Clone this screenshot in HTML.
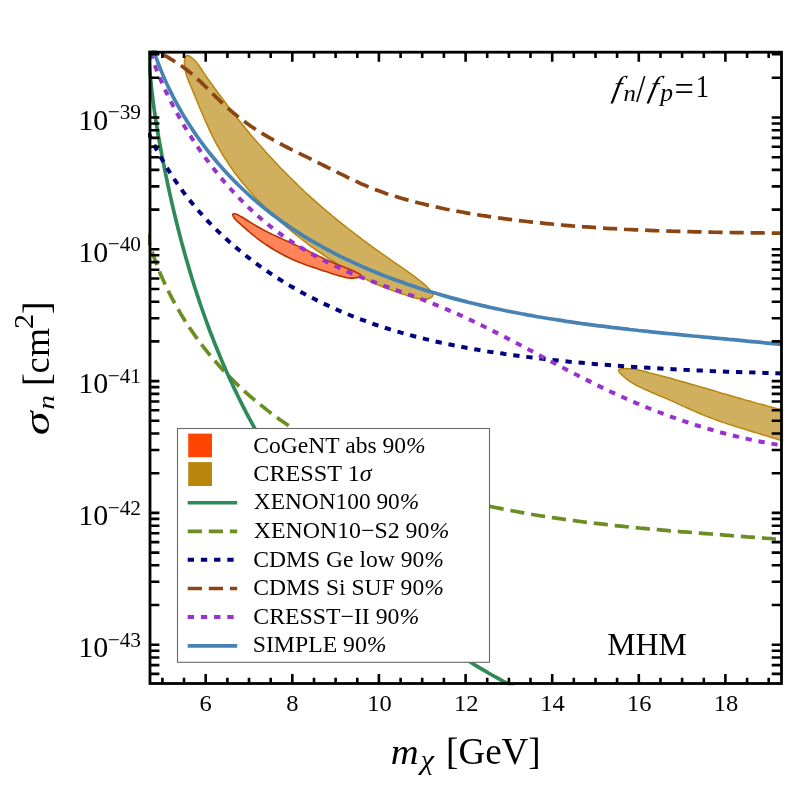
<!DOCTYPE html>
<html><head><meta charset="utf-8"><title>plot</title>
<style>html,body{margin:0;padding:0;background:#fff}svg{display:block}text{font-family:"Liberation Serif",serif;fill:#000}svg{will-change:transform;transform:translateZ(0)}</style>
</head><body>
<svg width="789" height="789" viewBox="0 0 789 789">
<rect width="789" height="789" fill="#fff"/>
<defs><clipPath id="c"><rect x="148.0" y="50.6" width="635.1" height="634.7"/></clipPath></defs>
<g clip-path="url(#c)" fill="none" stroke-linecap="butt" stroke-linejoin="round">
<path d="M186.5 55.8C187.5 55.3 189.1 55.9 190.6 56.8C192.1 57.7 194.0 59.5 195.4 61.0C196.9 62.6 198.2 64.5 199.4 66.2C200.7 68.0 201.8 69.8 202.9 71.5C204.1 73.3 205.3 75.0 206.4 76.7C207.6 78.3 208.7 80.0 209.9 81.6C211.1 83.2 212.2 84.9 213.4 86.5C214.5 88.1 215.7 89.7 216.9 91.3C218.0 92.9 219.2 94.4 220.4 96.0C221.6 97.6 222.8 99.2 224.0 100.8C225.2 102.4 226.4 104.0 227.6 105.6C228.8 107.2 230.0 108.8 231.2 110.4C232.4 112.0 233.7 113.5 234.9 115.1C236.2 116.7 237.4 118.3 238.6 119.8C239.9 121.4 241.2 123.0 242.4 124.6C243.7 126.1 245.0 127.7 246.2 129.2C247.5 130.8 248.8 132.3 250.1 133.9C251.4 135.4 252.7 137.0 254.0 138.5C255.3 140.0 256.6 141.6 257.9 143.1C259.3 144.6 260.6 146.1 261.9 147.6C263.3 149.2 264.6 150.7 265.9 152.2C267.3 153.7 268.7 155.1 270.0 156.6C271.4 158.1 272.8 159.6 274.1 161.1C275.5 162.5 276.9 164.0 278.3 165.5C279.7 166.9 281.1 168.4 282.5 169.8C283.9 171.3 285.3 172.7 286.7 174.1C288.1 175.6 289.5 177.0 291.0 178.4C292.4 179.8 293.8 181.2 295.3 182.6C296.7 184.0 298.2 185.4 299.6 186.8C301.1 188.2 302.5 189.6 304.0 191.0C305.5 192.3 306.9 193.7 308.4 195.1C309.9 196.4 311.4 197.8 312.9 199.1C314.4 200.4 315.9 201.8 317.4 203.1C318.9 204.4 320.4 205.7 321.9 207.1C323.4 208.4 324.9 209.7 326.5 211.0C328.0 212.3 329.5 213.5 331.1 214.8C332.6 216.1 334.1 217.4 335.7 218.6C337.2 219.9 338.8 221.2 340.4 222.4C341.9 223.7 343.5 224.9 345.1 226.2C346.6 227.4 348.2 228.6 349.8 229.9C351.4 231.1 352.9 232.3 354.5 233.5C356.1 234.7 357.7 235.9 359.3 237.1C360.9 238.4 362.5 239.6 364.1 240.8C365.8 242.0 367.4 243.1 369.0 244.3C370.6 245.5 372.2 246.7 373.9 247.9C375.5 249.1 377.1 250.2 378.8 251.4C380.4 252.6 382.1 253.8 383.7 254.9C385.4 256.1 387.0 257.3 388.7 258.4C390.3 259.6 392.0 260.7 393.6 261.9C395.3 263.1 397.0 264.2 398.7 265.4C400.3 266.5 402.0 267.7 403.7 268.8C405.4 270.0 407.1 271.1 408.7 272.3C410.4 273.5 412.0 274.6 413.7 275.9C415.3 277.1 417.0 278.3 418.5 279.5C420.1 280.8 421.7 282.1 423.2 283.4C424.8 284.7 426.3 286.1 427.7 287.5C429.1 288.9 430.9 290.5 431.7 291.8C432.6 293.2 433.2 294.7 432.8 295.8C432.4 296.9 430.7 297.9 429.2 298.5C427.6 299.1 425.6 299.3 423.7 299.3C421.8 299.3 419.8 299.0 417.8 298.6C415.9 298.2 413.8 297.6 411.8 297.0C409.8 296.4 407.9 295.8 405.9 295.1C403.9 294.5 401.9 293.9 400.0 293.2C398.0 292.5 396.1 291.9 394.2 291.2C392.2 290.5 390.3 289.7 388.4 289.0C386.5 288.3 384.6 287.5 382.7 286.7C380.8 286.0 379.0 285.2 377.1 284.4C375.3 283.6 373.4 282.8 371.6 281.9C369.7 281.1 367.9 280.2 366.1 279.4C364.2 278.5 362.4 277.6 360.6 276.7C358.8 275.8 357.1 274.9 355.3 274.0C353.5 273.0 351.7 272.1 350.0 271.1C348.2 270.2 346.5 269.2 344.7 268.2C343.0 267.2 341.3 266.2 339.5 265.2C337.8 264.2 336.1 263.1 334.4 262.1C332.7 261.0 331.0 260.0 329.3 258.9C327.7 257.8 326.0 256.7 324.3 255.6C322.7 254.5 321.0 253.4 319.4 252.2C317.7 251.1 316.1 250.0 314.5 248.8C312.8 247.6 311.2 246.5 309.6 245.3C308.0 244.1 306.4 242.9 304.8 241.7C303.2 240.5 301.6 239.3 300.1 238.0C298.5 236.8 296.9 235.5 295.4 234.3C293.8 233.0 292.2 231.8 290.7 230.5C289.2 229.2 287.6 227.9 286.1 226.6C284.6 225.3 283.1 224.0 281.5 222.6C280.0 221.3 278.5 220.0 277.0 218.6C275.5 217.3 274.1 215.9 272.6 214.5C271.1 213.2 269.6 211.8 268.2 210.4C266.7 209.0 265.3 207.6 263.9 206.2C262.4 204.7 261.0 203.3 259.6 201.9C258.2 200.4 256.8 199.0 255.4 197.5C254.1 196.0 252.7 194.5 251.4 193.0C250.0 191.5 248.7 190.0 247.4 188.5C246.0 187.0 244.7 185.5 243.5 183.9C242.2 182.4 240.9 180.8 239.7 179.2C238.4 177.7 237.2 176.1 236.0 174.5C234.8 172.9 233.6 171.3 232.4 169.6C231.3 168.0 230.1 166.4 229.0 164.7C227.9 163.0 226.8 161.4 225.7 159.7C224.6 158.0 223.5 156.3 222.5 154.6C221.5 152.9 220.5 151.1 219.5 149.4C218.5 147.6 217.5 145.9 216.6 144.1C215.6 142.3 214.7 140.6 213.8 138.8C212.9 137.0 212.0 135.2 211.1 133.4C210.2 131.6 209.4 129.7 208.5 127.9C207.7 126.1 206.9 124.2 206.0 122.4C205.2 120.5 204.4 118.7 203.6 116.8C202.8 115.0 202.0 113.1 201.2 111.3C200.4 109.4 199.6 107.5 198.8 105.7C198.1 103.8 197.3 101.9 196.5 100.0C195.7 98.2 195.0 96.3 194.2 94.4C193.4 92.6 192.6 90.7 191.9 88.8C191.1 87.0 190.3 85.1 189.5 83.2C188.8 81.4 188.0 79.5 187.3 77.6C186.7 75.7 186.1 73.8 185.6 71.8C185.1 69.8 184.8 67.8 184.6 65.8C184.4 63.8 184.3 61.3 184.6 59.7C184.9 58.0 185.5 56.2 186.5 55.8Z" fill="rgb(184,134,11)" fill-opacity="0.66" stroke="#B8860B" stroke-width="1.5"/>
<path d="M795.0 412.8C794.0 412.6 791.1 412.0 789.2 411.5C787.2 411.0 785.3 410.6 783.3 410.1C781.4 409.6 779.5 409.2 777.5 408.7C775.6 408.2 773.6 407.7 771.7 407.2C769.8 406.7 767.8 406.2 765.9 405.6C763.9 405.1 762.0 404.6 760.0 404.1C758.1 403.5 756.2 403.0 754.2 402.4C752.3 401.9 750.3 401.4 748.4 400.8C746.5 400.3 744.5 399.7 742.6 399.1C740.6 398.6 738.7 398.0 736.7 397.5C734.8 396.9 732.9 396.3 730.9 395.8C729.0 395.2 727.1 394.6 725.1 394.1C723.2 393.5 721.3 392.9 719.3 392.4C717.4 391.8 715.5 391.2 713.6 390.6C711.6 390.1 709.7 389.5 707.8 389.0C705.9 388.4 703.9 387.8 702.0 387.3C700.1 386.7 698.2 386.2 696.3 385.6C694.4 385.0 692.5 384.5 690.6 384.0C688.6 383.4 686.7 382.9 684.8 382.3C682.9 381.8 681.0 381.3 679.1 380.7C677.2 380.2 675.3 379.7 673.4 379.1C671.4 378.6 669.5 378.1 667.6 377.6C665.6 377.0 663.7 376.5 661.7 376.0C659.8 375.5 657.8 375.0 655.8 374.4C653.8 373.9 651.8 373.4 649.8 372.9C647.8 372.3 645.8 371.8 643.7 371.3C641.7 370.8 639.6 370.3 637.6 369.9C635.5 369.5 633.4 369.1 631.4 368.9C629.4 368.6 627.3 368.4 625.3 368.4C623.4 368.4 620.7 368.4 619.7 368.9C618.6 369.4 618.5 370.5 619.0 371.7C619.5 372.8 621.3 374.5 622.7 375.7C624.0 377.0 625.5 378.2 627.0 379.4C628.5 380.5 630.1 381.6 631.8 382.6C633.4 383.7 635.2 384.6 637.0 385.6C638.7 386.5 640.6 387.4 642.4 388.3C644.3 389.2 646.2 390.0 648.1 390.8C650.0 391.6 651.9 392.5 653.9 393.3C655.8 394.1 657.7 394.9 659.6 395.7C661.5 396.5 663.4 397.3 665.3 398.1C667.2 398.9 669.0 399.8 670.9 400.6C672.7 401.4 674.6 402.2 676.4 403.1C678.2 403.9 680.0 404.7 681.8 405.6C683.7 406.4 685.5 407.2 687.3 408.0C689.1 408.8 690.9 409.6 692.7 410.4C694.5 411.2 696.3 412.0 698.1 412.8C699.9 413.6 701.8 414.4 703.6 415.1C705.4 415.9 707.3 416.6 709.1 417.3C711.0 418.0 712.8 418.7 714.7 419.4C716.6 420.1 718.5 420.8 720.4 421.5C722.2 422.1 724.1 422.8 726.1 423.4C728.0 424.0 729.9 424.7 731.8 425.3C733.7 425.9 735.6 426.5 737.6 427.1C739.5 427.7 741.4 428.3 743.4 428.9C745.3 429.5 747.2 430.1 749.2 430.7C751.1 431.3 753.0 431.9 755.0 432.4C756.9 433.0 758.8 433.6 760.8 434.2C762.7 434.8 764.6 435.4 766.6 435.9C768.5 436.5 770.4 437.1 772.3 437.7C774.2 438.3 776.2 438.9 778.1 439.5C780.0 440.1 781.9 440.7 783.8 441.4C785.6 442.0 787.5 442.6 789.4 443.3C791.3 443.9 794.0 444.9 795.0 445.2Z" fill="rgb(184,134,11)" fill-opacity="0.66" stroke="#B8860B" stroke-width="1.5"/>
<path d="M232.8 214.1C233.1 213.4 234.6 213.7 236.0 214.1C237.5 214.6 239.7 215.9 241.4 216.8C243.0 217.7 244.5 218.7 245.9 219.5C247.4 220.4 248.6 221.3 250.0 222.1C251.4 223.0 252.8 223.8 254.2 224.7C255.7 225.5 257.1 226.4 258.6 227.2C260.1 228.1 261.6 228.9 263.1 229.7C264.7 230.5 266.2 231.3 267.7 232.1C269.2 232.9 270.8 233.6 272.3 234.4C273.8 235.1 275.3 235.8 276.9 236.5C278.4 237.2 279.9 237.9 281.5 238.6C283.0 239.3 284.5 240.0 286.1 240.7C287.6 241.4 289.1 242.1 290.7 242.8C292.2 243.5 293.7 244.2 295.3 244.9C296.8 245.6 298.3 246.3 299.9 247.0C301.4 247.7 302.9 248.4 304.5 249.2C306.0 249.9 307.5 250.7 309.1 251.4C310.6 252.2 312.1 252.9 313.7 253.7C315.2 254.4 316.7 255.2 318.3 255.9C319.8 256.7 321.3 257.4 322.9 258.1C324.4 258.9 325.9 259.6 327.5 260.3C329.0 261.0 330.5 261.7 332.0 262.3C333.6 263.0 335.1 263.6 336.6 264.2C338.2 264.8 339.7 265.4 341.2 266.0C342.8 266.6 344.4 267.2 346.0 267.9C347.6 268.5 349.2 269.2 350.9 269.9C352.6 270.6 354.6 271.4 356.2 272.3C357.8 273.1 360.3 274.1 360.8 274.9C361.2 275.7 360.0 276.5 359.0 277.0C358.0 277.5 356.3 277.9 354.8 278.0C353.3 278.2 351.8 278.2 350.2 278.1C348.6 278.0 347.0 277.7 345.3 277.4C343.7 277.0 342.0 276.6 340.3 276.1C338.6 275.7 336.8 275.1 335.1 274.6C333.4 274.0 331.7 273.4 330.0 272.9C328.3 272.3 326.7 271.8 325.0 271.3C323.4 270.7 321.8 270.2 320.2 269.7C318.6 269.1 317.0 268.6 315.4 268.1C313.8 267.6 312.2 267.0 310.7 266.5C309.1 266.0 307.6 265.4 306.0 264.9C304.5 264.3 302.9 263.7 301.4 263.1C299.8 262.5 298.3 261.9 296.8 261.2C295.2 260.6 293.7 259.9 292.1 259.2C290.6 258.5 289.1 257.8 287.5 257.0C286.0 256.3 284.5 255.5 283.0 254.7C281.4 253.9 279.9 253.1 278.4 252.3C276.9 251.4 275.4 250.6 274.0 249.7C272.5 248.8 271.0 247.9 269.6 247.0C268.1 246.1 266.7 245.1 265.3 244.2C263.9 243.2 262.5 242.3 261.2 241.3C259.8 240.3 258.5 239.3 257.2 238.3C255.9 237.3 254.6 236.2 253.3 235.2C252.0 234.1 250.7 233.1 249.4 232.0C248.1 230.9 246.9 229.8 245.6 228.7C244.3 227.6 243.0 226.4 241.6 225.2C240.3 224.1 238.9 222.9 237.6 221.7C236.4 220.5 235.0 219.2 234.2 217.9C233.4 216.6 232.5 214.7 232.8 214.1Z" fill="rgb(255,132,87)" stroke="#B83300" stroke-width="1.6"/>
<path d="M146.0 231.5C146.4 233.0 147.6 237.4 148.5 240.4C149.3 243.3 150.2 246.2 151.2 249.1C152.1 252.0 153.1 254.9 154.2 257.8C155.2 260.6 156.3 263.5 157.4 266.3C158.5 269.1 159.6 271.9 160.8 274.7C162.0 277.5 163.2 280.3 164.5 283.0C165.8 285.8 167.1 288.5 168.4 291.2C169.8 294.0 171.2 296.7 172.6 299.3C174.0 302.0 175.5 304.6 177.0 307.3C178.5 309.9 180.0 312.5 181.5 315.1C183.1 317.7 184.7 320.2 186.3 322.8C188.0 325.3 189.6 327.8 191.3 330.3C193.0 332.8 194.8 335.3 196.5 337.7C198.3 340.2 200.1 342.6 201.9 345.0C203.7 347.4 205.6 349.7 207.5 352.1C209.4 354.4 211.3 356.7 213.2 359.0C215.2 361.3 217.2 363.6 219.2 365.8C221.2 368.0 223.2 370.3 225.3 372.4C227.3 374.6 229.4 376.8 231.6 378.9C233.7 381.0 235.8 383.1 238.0 385.2C240.2 387.2 242.4 389.3 244.6 391.3C246.8 393.3 249.0 395.3 251.3 397.2C253.6 399.2 255.9 401.1 258.2 403.0C260.5 404.9 262.8 406.8 265.2 408.6C267.6 410.5 269.9 412.3 272.3 414.1C274.8 415.9 277.2 417.6 279.6 419.4C282.1 421.1 284.5 422.8 287.0 424.5C289.5 426.2 292.0 427.9 294.5 429.5C297.0 431.1 299.6 432.7 302.1 434.3C304.7 435.9 307.3 437.5 309.8 439.0C312.4 440.5 315.0 442.0 317.7 443.5C320.3 445.0 322.9 446.5 325.6 447.9C328.2 449.3 330.9 450.8 333.5 452.1C336.2 453.5 338.9 454.9 341.6 456.2C344.3 457.6 347.0 458.9 349.7 460.2C352.5 461.4 355.2 462.7 358.0 464.0C360.7 465.2 363.5 466.4 366.2 467.6C369.0 468.8 371.8 470.0 374.6 471.1C377.3 472.3 380.1 473.4 382.9 474.5C385.7 475.6 388.5 476.7 391.3 477.8C394.2 478.8 397.0 479.9 399.8 480.9C402.6 481.9 405.5 482.9 408.3 483.9C411.2 484.8 414.0 485.8 416.9 486.7C419.7 487.7 422.6 488.6 425.5 489.5C428.3 490.4 431.2 491.2 434.1 492.1C437.0 492.9 439.8 493.8 442.7 494.6C445.6 495.4 448.5 496.2 451.4 497.0C454.3 497.8 457.2 498.5 460.2 499.3C463.1 500.0 466.0 500.8 468.9 501.5C471.8 502.2 474.8 502.9 477.7 503.6C480.6 504.3 483.6 504.9 486.5 505.6C489.5 506.2 492.4 506.8 495.4 507.5C498.3 508.1 501.3 508.7 504.2 509.3C507.2 509.9 510.2 510.4 513.1 511.0C516.1 511.6 519.1 512.1 522.0 512.6C525.0 513.2 528.0 513.7 531.0 514.2C533.9 514.7 536.9 515.2 539.9 515.7C542.9 516.2 545.9 516.6 548.9 517.1C551.9 517.6 554.9 518.0 557.9 518.4C560.8 518.9 563.8 519.3 566.8 519.7C569.8 520.1 572.8 520.5 575.9 520.9C578.9 521.3 581.9 521.7 584.9 522.1C587.9 522.5 590.9 522.8 593.9 523.2C596.9 523.5 599.9 523.9 602.9 524.2C605.9 524.6 608.9 524.9 612.0 525.2C615.0 525.6 618.0 525.9 621.0 526.2C624.0 526.5 627.0 526.8 630.0 527.1C633.0 527.4 636.1 527.7 639.1 528.0C642.1 528.3 645.1 528.5 648.1 528.8C651.1 529.1 654.1 529.4 657.1 529.6C660.2 529.9 663.2 530.2 666.2 530.4C669.2 530.7 672.2 530.9 675.2 531.2C678.2 531.4 681.2 531.7 684.2 531.9C687.2 532.2 690.2 532.4 693.2 532.6C696.2 532.9 699.2 533.1 702.2 533.3C705.2 533.6 708.2 533.8 711.2 534.0C714.2 534.3 717.2 534.5 720.2 534.7C723.2 534.9 726.1 535.2 729.1 535.4C732.1 535.6 735.1 535.9 738.1 536.1C741.0 536.3 744.0 536.5 747.0 536.8C750.0 537.0 752.9 537.2 755.9 537.5C758.8 537.7 761.8 537.9 764.8 538.2C767.7 538.4 770.7 538.6 773.6 538.9C776.5 539.1 781.0 539.5 782.4 539.6" stroke="#6B8E23" stroke-width="3.7" stroke-dasharray="14.2 6.9"/>
<path d="M148.0 40.2C148.1 41.7 148.2 46.2 148.4 49.2C148.5 52.1 148.7 55.1 148.9 58.1C149.1 61.1 149.3 64.1 149.5 67.1C149.8 70.0 150.0 73.0 150.3 76.0C150.6 79.0 150.9 82.0 151.2 84.9C151.5 87.9 151.8 90.9 152.2 93.9C152.5 96.8 152.9 99.8 153.3 102.8C153.7 105.8 154.1 108.7 154.5 111.7C155.0 114.7 155.4 117.6 155.9 120.6C156.3 123.6 156.8 126.5 157.3 129.5C157.8 132.4 158.3 135.4 158.8 138.4C159.3 141.3 159.8 144.3 160.4 147.2C160.9 150.2 161.5 153.1 162.0 156.1C162.6 159.0 163.2 162.0 163.8 164.9C164.3 167.9 164.9 170.8 165.6 173.8C166.2 176.7 166.8 179.7 167.4 182.6C168.0 185.6 168.7 188.5 169.3 191.4C170.0 194.4 170.6 197.3 171.3 200.3C171.9 203.2 172.6 206.1 173.3 209.0C174.0 212.0 174.7 214.9 175.4 217.8C176.1 220.8 176.8 223.7 177.6 226.6C178.3 229.5 179.1 232.4 179.8 235.3C180.6 238.3 181.3 241.2 182.1 244.1C182.9 247.0 183.7 249.9 184.5 252.8C185.3 255.7 186.1 258.6 187.0 261.5C187.8 264.3 188.6 267.2 189.5 270.1C190.4 273.0 191.2 275.9 192.1 278.8C193.0 281.6 193.9 284.5 194.8 287.4C195.7 290.2 196.6 293.1 197.6 295.9C198.5 298.8 199.5 301.7 200.4 304.5C201.4 307.3 202.4 310.2 203.4 313.0C204.4 315.9 205.4 318.7 206.4 321.5C207.4 324.3 208.5 327.2 209.5 330.0C210.6 332.8 211.7 335.6 212.8 338.4C213.8 341.2 215.0 344.0 216.1 346.8C217.2 349.6 218.3 352.3 219.5 355.1C220.6 357.9 221.8 360.7 223.0 363.4C224.2 366.2 225.4 369.0 226.6 371.7C227.8 374.5 229.0 377.2 230.3 379.9C231.6 382.7 232.8 385.4 234.1 388.1C235.4 390.8 236.7 393.5 238.0 396.3C239.3 399.0 240.7 401.7 242.0 404.3C243.4 407.0 244.8 409.7 246.1 412.4C247.5 415.1 248.9 417.7 250.4 420.4C251.8 423.0 253.2 425.7 254.7 428.3C256.1 431.0 257.6 433.6 259.1 436.2C260.6 438.8 262.1 441.4 263.6 444.0C265.1 446.6 266.6 449.2 268.2 451.8C269.8 454.4 271.3 456.9 272.9 459.5C274.5 462.1 276.1 464.6 277.7 467.2C279.3 469.7 281.0 472.2 282.6 474.7C284.3 477.3 285.9 479.8 287.6 482.3C289.3 484.8 291.0 487.2 292.7 489.7C294.4 492.2 296.2 494.6 297.9 497.1C299.7 499.5 301.4 502.0 303.2 504.4C305.0 506.8 306.8 509.2 308.6 511.6C310.4 514.0 312.2 516.4 314.1 518.8C315.9 521.2 317.8 523.6 319.6 525.9C321.5 528.3 323.4 530.6 325.3 532.9C327.2 535.2 329.1 537.5 331.1 539.8C333.0 542.1 334.9 544.4 336.9 546.7C338.9 549.0 340.9 551.2 342.9 553.5C344.9 555.7 346.9 557.9 348.9 560.1C350.9 562.4 353.0 564.5 355.0 566.7C357.1 568.9 359.2 571.1 361.3 573.2C363.3 575.4 365.4 577.5 367.6 579.6C369.7 581.8 371.8 583.9 374.0 586.0C376.1 588.1 378.3 590.1 380.5 592.2C382.6 594.3 384.8 596.3 387.1 598.3C389.3 600.3 391.5 602.4 393.7 604.4C396.0 606.3 398.2 608.3 400.5 610.3C402.8 612.2 405.0 614.2 407.3 616.1C409.6 618.0 411.9 619.9 414.3 621.8C416.6 623.7 418.9 625.6 421.3 627.5C423.7 629.3 426.0 631.1 428.4 633.0C430.8 634.8 433.2 636.6 435.6 638.4C438.0 640.2 440.5 641.9 442.9 643.7C445.3 645.4 447.8 647.1 450.3 648.8C452.8 650.6 455.2 652.2 457.7 653.9C460.2 655.6 462.8 657.2 465.3 658.9C467.8 660.5 470.4 662.1 472.9 663.7C475.5 665.3 478.0 666.8 480.6 668.4C483.2 669.9 485.8 671.5 488.4 673.0C491.0 674.5 493.7 676.0 496.3 677.4C498.9 678.9 501.6 680.4 504.3 681.8C506.9 683.2 509.6 684.6 512.3 686.0C515.0 687.4 519.1 689.4 520.4 690.1" stroke="#2E8B57" stroke-width="3.7"/>
<path d="M143.5 120.9C144.1 122.3 145.8 126.7 147.1 129.6C148.3 132.5 149.6 135.3 151.0 138.1C152.3 140.9 153.6 143.7 155.0 146.5C156.4 149.2 157.9 151.9 159.3 154.6C160.8 157.3 162.3 160.0 163.9 162.6C165.4 165.3 167.0 167.9 168.6 170.5C170.2 173.0 171.9 175.6 173.5 178.1C175.2 180.6 176.9 183.1 178.7 185.6C180.4 188.0 182.2 190.5 184.0 192.9C185.8 195.3 187.7 197.6 189.5 200.0C191.4 202.3 193.3 204.6 195.2 206.9C197.2 209.2 199.1 211.5 201.1 213.7C203.1 215.9 205.1 218.1 207.2 220.3C209.2 222.5 211.3 224.6 213.4 226.7C215.5 228.9 217.6 230.9 219.8 233.0C221.9 235.1 224.1 237.1 226.3 239.1C228.5 241.1 230.8 243.1 233.0 245.0C235.3 247.0 237.6 248.9 239.9 250.8C242.2 252.7 244.5 254.6 246.8 256.4C249.2 258.2 251.6 260.0 254.0 261.8C256.3 263.6 258.8 265.4 261.2 267.1C263.6 268.8 266.1 270.5 268.6 272.2C271.0 273.8 273.5 275.5 276.0 277.1C278.5 278.7 281.1 280.3 283.6 281.9C286.2 283.4 288.7 285.0 291.3 286.5C293.9 288.0 296.5 289.5 299.1 290.9C301.8 292.4 304.4 293.8 307.0 295.2C309.7 296.6 312.3 298.0 315.0 299.3C317.7 300.7 320.4 302.0 323.1 303.3C325.8 304.6 328.5 305.9 331.3 307.1C334.0 308.4 336.7 309.6 339.5 310.8C342.2 311.9 345.0 313.1 347.8 314.2C350.6 315.4 353.3 316.5 356.1 317.6C358.9 318.7 361.7 319.7 364.6 320.7C367.4 321.8 370.2 322.8 373.0 323.8C375.9 324.8 378.7 325.7 381.6 326.6C384.4 327.6 387.3 328.5 390.1 329.4C393.0 330.2 395.9 331.1 398.7 331.9C401.6 332.8 404.5 333.6 407.4 334.4C410.3 335.2 413.2 336.0 416.1 336.7C419.0 337.5 421.9 338.2 424.8 338.9C427.8 339.6 430.7 340.3 433.6 341.0C436.5 341.7 439.5 342.3 442.4 343.0C445.3 343.6 448.3 344.2 451.2 344.8C454.2 345.4 457.1 346.0 460.1 346.6C463.0 347.1 466.0 347.7 469.0 348.2C471.9 348.8 474.9 349.3 477.9 349.8C480.8 350.3 483.8 350.8 486.8 351.3C489.8 351.7 492.7 352.2 495.7 352.7C498.7 353.1 501.7 353.5 504.7 354.0C507.6 354.4 510.6 354.8 513.6 355.2C516.6 355.6 519.6 356.0 522.6 356.4C525.6 356.8 528.6 357.2 531.6 357.5C534.5 357.9 537.5 358.2 540.5 358.6C543.5 358.9 546.5 359.3 549.5 359.6C552.5 359.9 555.5 360.2 558.5 360.5C561.5 360.9 564.4 361.2 567.4 361.5C570.4 361.8 573.4 362.0 576.4 362.3C579.4 362.6 582.4 362.9 585.4 363.1C588.4 363.4 591.4 363.7 594.3 363.9C597.3 364.2 600.3 364.4 603.3 364.7C606.3 364.9 609.3 365.1 612.3 365.4C615.3 365.6 618.3 365.8 621.3 366.0C624.2 366.2 627.2 366.5 630.2 366.7C633.2 366.9 636.2 367.1 639.2 367.2C642.2 367.4 645.2 367.6 648.2 367.8C651.2 368.0 654.2 368.2 657.1 368.3C660.1 368.5 663.1 368.7 666.1 368.8C669.1 369.0 672.1 369.2 675.1 369.3C678.1 369.5 681.1 369.6 684.1 369.8C687.1 369.9 690.0 370.0 693.0 370.2C696.0 370.3 699.0 370.5 702.0 370.6C705.0 370.7 708.0 370.8 711.0 371.0C714.0 371.1 717.0 371.2 720.0 371.3C723.0 371.4 725.9 371.5 728.9 371.7C731.9 371.8 734.9 371.9 737.9 372.0C740.9 372.1 743.9 372.2 746.9 372.3C749.9 372.4 752.9 372.5 755.9 372.6C758.9 372.7 761.9 372.8 764.9 372.9C767.9 373.0 770.9 373.1 773.8 373.2C776.8 373.3 781.3 373.4 782.8 373.4" stroke="#000080" stroke-width="4.0" stroke-dasharray="6.3 6.845"/>
<path d="M148.0 47.3C149.0 47.7 152.3 49.2 154.4 50.2C156.5 51.2 158.6 52.3 160.7 53.4C162.8 54.5 164.9 55.6 166.9 56.7C168.9 57.9 171.0 59.1 172.9 60.3C174.9 61.5 176.9 62.8 178.8 64.1C180.7 65.4 182.6 66.8 184.5 68.1C186.3 69.5 188.2 70.9 189.9 72.4C191.7 73.9 193.5 75.4 195.2 76.9C197.0 78.4 198.7 80.0 200.4 81.6C202.0 83.2 203.7 84.8 205.4 86.5C207.0 88.1 208.7 89.8 210.3 91.4C212.0 93.1 213.7 94.7 215.3 96.4C217.0 98.0 218.7 99.6 220.4 101.3C222.1 102.9 223.8 104.5 225.5 106.1C227.2 107.7 229.0 109.2 230.8 110.7C232.5 112.3 234.4 113.7 236.2 115.2C238.0 116.7 239.8 118.1 241.7 119.5C243.6 120.9 245.5 122.3 247.4 123.7C249.3 125.0 251.2 126.4 253.2 127.7C255.1 129.0 257.1 130.3 259.0 131.5C261.0 132.8 263.0 134.0 265.0 135.2C267.0 136.4 269.0 137.6 271.1 138.7C273.1 139.9 275.2 141.0 277.2 142.1C279.3 143.2 281.3 144.3 283.4 145.4C285.5 146.5 287.6 147.5 289.7 148.6C291.8 149.7 293.9 150.7 296.0 151.7C298.1 152.8 300.2 153.8 302.3 154.8C304.4 155.9 306.5 156.9 308.6 157.9C310.7 159.0 312.8 160.0 314.9 161.0C317.0 162.1 319.1 163.1 321.2 164.2C323.3 165.2 325.4 166.3 327.5 167.3C329.6 168.4 331.7 169.5 333.8 170.5C335.9 171.6 338.0 172.7 340.1 173.7C342.2 174.7 344.3 175.8 346.5 176.8C348.6 177.9 350.7 178.9 352.8 179.9C354.9 180.9 357.1 181.9 359.2 182.8C361.3 183.8 363.5 184.7 365.6 185.6C367.8 186.6 370.0 187.4 372.1 188.3C374.3 189.2 376.5 190.0 378.7 190.8C380.9 191.6 383.1 192.4 385.3 193.2C387.5 193.9 389.7 194.7 392.0 195.4C394.2 196.1 396.4 196.8 398.7 197.4C400.9 198.1 403.2 198.8 405.4 199.4C407.7 200.0 410.0 200.6 412.2 201.2C414.5 201.8 416.8 202.4 419.0 203.0C421.3 203.5 423.6 204.1 425.9 204.6C428.2 205.2 430.4 205.7 432.7 206.2C435.0 206.7 437.3 207.2 439.6 207.7C441.9 208.2 444.2 208.7 446.5 209.2C448.8 209.6 451.1 210.1 453.4 210.5C455.7 211.0 458.0 211.4 460.3 211.8C462.6 212.3 464.9 212.7 467.2 213.1C469.6 213.5 471.9 213.9 474.2 214.3C476.5 214.6 478.8 215.0 481.1 215.4C483.5 215.7 485.8 216.1 488.1 216.4C490.4 216.8 492.7 217.1 495.1 217.5C497.4 217.8 499.7 218.1 502.0 218.4C504.4 218.7 506.7 219.0 509.0 219.3C511.4 219.6 513.7 219.9 516.0 220.2C518.3 220.5 520.7 220.8 523.0 221.0C525.3 221.3 527.7 221.6 530.0 221.8C532.3 222.1 534.7 222.4 537.0 222.6C539.3 222.8 541.7 223.1 544.0 223.3C546.3 223.6 548.7 223.8 551.0 224.0C553.3 224.2 555.7 224.4 558.0 224.7C560.3 224.9 562.7 225.1 565.0 225.3C567.3 225.5 569.7 225.7 572.0 225.9C574.4 226.0 576.7 226.2 579.0 226.4C581.4 226.6 583.7 226.8 586.0 226.9C588.4 227.1 590.7 227.3 593.1 227.4C595.4 227.6 597.7 227.7 600.1 227.9C602.4 228.0 604.8 228.2 607.1 228.3C609.5 228.5 611.8 228.6 614.1 228.7C616.5 228.8 618.8 229.0 621.2 229.1C623.5 229.2 625.8 229.3 628.2 229.5C630.5 229.6 632.9 229.7 635.2 229.8C637.6 229.9 639.9 230.0 642.3 230.1C644.6 230.2 646.9 230.3 649.3 230.4C651.6 230.5 654.0 230.6 656.3 230.7C658.7 230.7 661.0 230.8 663.4 230.9C665.7 231.0 668.0 231.1 670.4 231.1C672.7 231.2 675.1 231.3 677.4 231.4C679.8 231.4 682.1 231.5 684.5 231.5C686.8 231.6 689.2 231.7 691.5 231.7C693.9 231.8 696.2 231.8 698.5 231.9C700.9 231.9 703.2 232.0 705.6 232.1C707.9 232.1 710.3 232.1 712.6 232.2C715.0 232.2 717.3 232.3 719.7 232.3C722.0 232.4 724.4 232.4 726.7 232.4C729.0 232.5 731.4 232.5 733.7 232.6C736.1 232.6 738.4 232.6 740.8 232.7C743.1 232.7 745.5 232.7 747.8 232.8C750.2 232.8 752.5 232.8 754.9 232.8C757.2 232.9 759.5 232.9 761.9 232.9C764.2 233.0 766.6 233.0 768.9 233.0C771.3 233.0 773.6 233.1 776.0 233.1C778.3 233.1 781.8 233.2 783.0 233.2" stroke="#8B4513" stroke-width="3.7" stroke-dasharray="14.2 6.9" stroke-dashoffset="4.5"/>
<path d="M149.4 50.1C149.9 51.5 151.3 55.7 152.3 58.5C153.3 61.3 154.3 64.0 155.4 66.8C156.4 69.6 157.5 72.3 158.7 75.1C159.8 77.8 161.0 80.6 162.2 83.3C163.4 86.0 164.7 88.8 165.9 91.5C167.2 94.2 168.5 96.9 169.9 99.6C171.2 102.2 172.6 104.9 174.0 107.6C175.4 110.2 176.8 112.9 178.3 115.5C179.8 118.2 181.3 120.8 182.8 123.4C184.3 126.0 185.9 128.6 187.5 131.2C189.1 133.8 190.7 136.3 192.3 138.9C194.0 141.4 195.7 144.0 197.4 146.5C199.1 149.0 200.8 151.5 202.6 154.0C204.4 156.4 206.1 158.9 208.0 161.3C209.8 163.8 211.6 166.2 213.5 168.6C215.4 171.0 217.3 173.4 219.2 175.7C221.2 178.1 223.1 180.4 225.1 182.7C227.1 185.0 229.1 187.3 231.1 189.5C233.2 191.8 235.2 194.0 237.3 196.2C239.4 198.4 241.5 200.5 243.7 202.7C245.8 204.8 248.0 206.9 250.2 209.0C252.4 211.0 254.6 213.1 256.9 215.1C259.2 217.1 261.4 219.1 263.7 221.0C266.0 222.9 268.4 224.8 270.7 226.7C273.1 228.5 275.5 230.3 277.9 232.1C280.3 233.9 282.8 235.6 285.2 237.4C287.7 239.1 290.2 240.7 292.7 242.4C295.2 244.0 297.7 245.6 300.3 247.2C302.8 248.7 305.4 250.3 308.0 251.8C310.6 253.3 313.2 254.7 315.8 256.2C318.4 257.6 321.1 259.0 323.8 260.4C326.4 261.7 329.1 263.1 331.8 264.4C334.5 265.7 337.2 267.0 340.0 268.2C342.7 269.5 345.5 270.7 348.2 271.9C351.0 273.0 353.8 274.2 356.5 275.3C359.3 276.5 362.1 277.6 364.9 278.7C367.8 279.8 370.6 280.8 373.4 281.9C376.2 282.9 379.1 284.0 381.9 285.0C384.7 286.0 387.6 287.1 390.4 288.1C393.3 289.1 396.1 290.1 399.0 291.1C401.8 292.1 404.7 293.1 407.5 294.2C410.3 295.2 413.2 296.2 416.0 297.2C418.9 298.3 421.7 299.3 424.5 300.4C427.3 301.5 430.1 302.6 432.9 303.7C435.8 304.8 438.5 305.9 441.3 307.0C444.1 308.2 446.9 309.4 449.6 310.6C452.4 311.7 455.2 313.0 457.9 314.2C460.6 315.4 463.4 316.7 466.1 317.9C468.8 319.2 471.6 320.5 474.3 321.8C477.0 323.1 479.7 324.4 482.4 325.7C485.1 327.0 487.8 328.4 490.5 329.7C493.2 331.1 495.9 332.4 498.5 333.8C501.2 335.1 503.9 336.5 506.6 337.9C509.2 339.3 511.9 340.7 514.6 342.1C517.2 343.5 519.9 344.9 522.6 346.3C525.2 347.7 527.9 349.1 530.6 350.5C533.2 351.9 535.9 353.4 538.5 354.8C541.2 356.2 543.8 357.6 546.5 359.0C549.2 360.4 551.8 361.8 554.5 363.3C557.1 364.7 559.8 366.1 562.5 367.5C565.1 368.9 567.8 370.3 570.5 371.7C573.2 373.0 575.8 374.4 578.5 375.8C581.2 377.2 583.9 378.5 586.6 379.9C589.3 381.3 592.0 382.6 594.7 383.9C597.4 385.3 600.1 386.6 602.8 387.9C605.5 389.2 608.2 390.5 610.9 391.8C613.7 393.0 616.4 394.3 619.1 395.5C621.9 396.8 624.6 398.0 627.4 399.2C630.1 400.4 632.9 401.6 635.7 402.8C638.5 404.0 641.2 405.2 644.0 406.3C646.8 407.4 649.6 408.6 652.4 409.7C655.2 410.8 658.0 411.9 660.8 412.9C663.7 414.0 666.5 415.0 669.3 416.1C672.2 417.1 675.0 418.1 677.8 419.1C680.7 420.1 683.5 421.1 686.4 422.0C689.3 423.0 692.1 423.9 695.0 424.8C697.9 425.7 700.8 426.6 703.7 427.5C706.5 428.4 709.4 429.2 712.3 430.0C715.3 430.9 718.2 431.7 721.1 432.5C724.0 433.2 726.9 434.0 729.8 434.7C732.8 435.5 735.7 436.2 738.7 436.9C741.6 437.6 744.6 438.3 747.5 438.9C750.5 439.6 753.4 440.2 756.4 440.8C759.4 441.4 762.3 442.0 765.3 442.5C768.3 443.1 771.3 443.6 774.3 444.1C777.3 444.6 781.8 445.3 783.3 445.5" stroke="#9932CC" stroke-width="4.0" stroke-dasharray="6.3 6.845" stroke-dashoffset="-3"/>
<path d="M151.8 44.7C152.3 46.2 153.7 50.7 154.7 53.6C155.7 56.6 156.8 59.5 157.9 62.4C159.0 65.4 160.1 68.2 161.3 71.1C162.5 74.0 163.7 76.8 164.9 79.6C166.2 82.5 167.5 85.3 168.8 88.0C170.1 90.8 171.5 93.5 172.9 96.3C174.3 99.0 175.7 101.7 177.2 104.4C178.6 107.1 180.1 109.7 181.7 112.3C183.2 115.0 184.8 117.6 186.4 120.2C188.0 122.7 189.6 125.3 191.3 127.8C192.9 130.4 194.6 132.9 196.4 135.4C198.1 137.8 199.8 140.3 201.6 142.7C203.4 145.2 205.3 147.6 207.1 150.0C209.0 152.3 210.8 154.7 212.8 157.0C214.7 159.4 216.6 161.7 218.6 163.9C220.5 166.2 222.5 168.5 224.6 170.7C226.6 172.9 228.7 175.1 230.7 177.3C232.8 179.5 234.9 181.6 237.1 183.7C239.2 185.8 241.4 187.9 243.6 190.0C245.7 192.0 248.0 194.1 250.2 196.1C252.4 198.1 254.7 200.1 257.0 202.0C259.3 204.0 261.6 205.9 263.9 207.8C266.3 209.7 268.6 211.6 271.0 213.4C273.4 215.2 275.8 217.0 278.2 218.8C280.7 220.6 283.1 222.4 285.6 224.1C288.0 225.8 290.5 227.5 293.0 229.2C295.6 230.8 298.1 232.5 300.6 234.1C303.2 235.7 305.8 237.3 308.3 238.8C310.9 240.4 313.5 241.9 316.2 243.4C318.8 244.9 321.4 246.4 324.1 247.9C326.7 249.3 329.4 250.7 332.1 252.1C334.8 253.5 337.5 254.9 340.2 256.3C342.9 257.6 345.6 258.9 348.4 260.2C351.1 261.5 353.8 262.8 356.6 264.1C359.4 265.3 362.1 266.5 364.9 267.7C367.7 269.0 370.5 270.1 373.3 271.3C376.1 272.5 378.9 273.6 381.7 274.7C384.5 275.8 387.4 276.9 390.2 278.0C393.0 279.1 395.9 280.1 398.7 281.1C401.6 282.2 404.4 283.2 407.3 284.2C410.1 285.2 413.0 286.1 415.9 287.1C418.7 288.0 421.6 289.0 424.5 289.9C427.4 290.8 430.3 291.7 433.2 292.5C436.1 293.4 439.0 294.3 441.9 295.1C444.8 295.9 447.7 296.8 450.6 297.6C453.5 298.4 456.4 299.2 459.3 299.9C462.3 300.7 465.2 301.4 468.1 302.2C471.1 302.9 474.0 303.6 476.9 304.3C479.9 305.0 482.8 305.7 485.8 306.4C488.7 307.1 491.7 307.7 494.7 308.4C497.6 309.0 500.6 309.6 503.5 310.2C506.5 310.9 509.5 311.5 512.4 312.0C515.4 312.6 518.4 313.2 521.4 313.8C524.4 314.3 527.3 314.9 530.3 315.4C533.3 315.9 536.3 316.5 539.3 317.0C542.3 317.5 545.3 318.0 548.3 318.5C551.3 319.0 554.3 319.5 557.3 319.9C560.3 320.4 563.3 320.9 566.3 321.3C569.3 321.7 572.3 322.2 575.3 322.6C578.3 323.0 581.3 323.5 584.3 323.9C587.3 324.3 590.3 324.7 593.4 325.1C596.4 325.5 599.4 325.9 602.4 326.2C605.4 326.6 608.4 327.0 611.4 327.4C614.5 327.7 617.5 328.1 620.5 328.4C623.5 328.8 626.5 329.1 629.5 329.5C632.6 329.8 635.6 330.1 638.6 330.5C641.6 330.8 644.6 331.1 647.7 331.4C650.7 331.8 653.7 332.1 656.7 332.4C659.7 332.7 662.7 333.0 665.8 333.3C668.8 333.6 671.8 333.9 674.8 334.2C677.8 334.5 680.8 334.8 683.8 335.1C686.9 335.4 689.9 335.7 692.9 336.0C695.9 336.2 698.9 336.5 701.9 336.8C704.9 337.1 707.9 337.4 710.9 337.7C713.9 338.0 716.9 338.2 719.9 338.5C722.9 338.8 725.9 339.1 728.9 339.4C731.9 339.6 734.9 339.9 737.9 340.2C740.9 340.5 743.8 340.8 746.8 341.1C749.8 341.4 752.8 341.7 755.8 341.9C758.7 342.2 761.7 342.5 764.7 342.8C767.6 343.1 770.6 343.4 773.6 343.7C776.5 344.0 781.0 344.5 782.4 344.7" stroke="#4682B4" stroke-width="3.7"/>
</g>
<rect x="177.5" y="428.5" width="312.0" height="233.8" fill="#fff" stroke="#6a6a6a" stroke-width="1.1"/>
<rect x="188.2" y="433.6" width="23.8" height="23.6" fill="#FF4500"/>
<rect x="188.2" y="462.1" width="23.8" height="23.9" fill="#B8860B"/>
<line x1="187.7" x2="237.2" y1="502.75" y2="502.75" stroke="#2E8B57" stroke-width="3.7"/>
<line x1="187.7" x2="237.2" y1="531.30" y2="531.30" stroke="#6B8E23" stroke-width="3.7" stroke-dasharray="14.2 6.9"/>
<line x1="187.7" x2="237.2" y1="559.85" y2="559.85" stroke="#000080" stroke-width="4.0" stroke-dasharray="6.3 6.9"/>
<line x1="187.7" x2="237.2" y1="588.50" y2="588.50" stroke="#8B4513" stroke-width="3.7" stroke-dasharray="14.2 6.9"/>
<line x1="187.7" x2="237.2" y1="617.10" y2="617.10" stroke="#9932CC" stroke-width="4.0" stroke-dasharray="6.3 6.9"/>
<line x1="187.7" x2="237.2" y1="645.80" y2="645.80" stroke="#4682B4" stroke-width="3.7"/>
<text transform="translate(253.33 452.8) scale(1.0078 1)" font-size="23.4">CoGeNT abs 90<tspan font-style="italic">%</tspan></text>
<text transform="translate(253.31 481.3) scale(1.0340 1)" font-size="23.4">CRESST 1<tspan font-style="italic">σ</tspan></text>
<text transform="translate(253.79 509.4) scale(0.9983 1)" font-size="23.4">XENON100 90<tspan font-style="italic">%</tspan></text>
<text transform="translate(253.78 538.2) scale(1.0190 1)" font-size="23.4">XENON10−S2 90<tspan font-style="italic">%</tspan></text>
<text transform="translate(253.33 566.9) scale(1.0077 1)" font-size="23.4">CDMS Ge low 90<tspan font-style="italic">%</tspan></text>
<text transform="translate(253.33 595.1) scale(1.0074 1)" font-size="23.4">CDMS Si SUF 90<tspan font-style="italic">%</tspan></text>
<text transform="translate(253.33 623.6) scale(1.0158 1)" font-size="23.4">CRESST−II 90<tspan font-style="italic">%</tspan></text>
<text transform="translate(252.71 652.2) scale(1.0151 1)" font-size="23.4">SIMPLE 90<tspan font-style="italic">%</tspan></text>
<g stroke="#000" stroke-width="2.6" fill="none" stroke-linecap="butt">
<path d="M162.4 52.2 v5.7 M162.4 683.5 v-5.7"/>
<path d="M184.0 52.2 v5.7 M184.0 683.5 v-5.7"/>
<path d="M205.7 52.2 v9.5 M205.7 683.5 v-9.5"/>
<path d="M227.4 52.2 v5.7 M227.4 683.5 v-5.7"/>
<path d="M249.0 52.2 v5.7 M249.0 683.5 v-5.7"/>
<path d="M270.7 52.2 v5.7 M270.7 683.5 v-5.7"/>
<path d="M292.3 52.2 v9.5 M292.3 683.5 v-9.5"/>
<path d="M314.0 52.2 v5.7 M314.0 683.5 v-5.7"/>
<path d="M335.6 52.2 v5.7 M335.6 683.5 v-5.7"/>
<path d="M357.3 52.2 v5.7 M357.3 683.5 v-5.7"/>
<path d="M378.9 52.2 v9.5 M378.9 683.5 v-9.5"/>
<path d="M400.6 52.2 v5.7 M400.6 683.5 v-5.7"/>
<path d="M422.2 52.2 v5.7 M422.2 683.5 v-5.7"/>
<path d="M443.9 52.2 v5.7 M443.9 683.5 v-5.7"/>
<path d="M465.6 52.2 v9.5 M465.6 683.5 v-9.5"/>
<path d="M487.2 52.2 v5.7 M487.2 683.5 v-5.7"/>
<path d="M508.9 52.2 v5.7 M508.9 683.5 v-5.7"/>
<path d="M530.5 52.2 v5.7 M530.5 683.5 v-5.7"/>
<path d="M552.2 52.2 v9.5 M552.2 683.5 v-9.5"/>
<path d="M573.8 52.2 v5.7 M573.8 683.5 v-5.7"/>
<path d="M595.5 52.2 v5.7 M595.5 683.5 v-5.7"/>
<path d="M617.1 52.2 v5.7 M617.1 683.5 v-5.7"/>
<path d="M638.8 52.2 v9.5 M638.8 683.5 v-9.5"/>
<path d="M660.5 52.2 v5.7 M660.5 683.5 v-5.7"/>
<path d="M682.1 52.2 v5.7 M682.1 683.5 v-5.7"/>
<path d="M703.8 52.2 v5.7 M703.8 683.5 v-5.7"/>
<path d="M725.4 52.2 v9.5 M725.4 683.5 v-9.5"/>
<path d="M747.1 52.2 v5.7 M747.1 683.5 v-5.7"/>
<path d="M768.7 52.2 v5.7 M768.7 683.5 v-5.7"/>
<path d="M150.0 673.9 h9.4 M781.5 673.9 h-9.8"/>
<path d="M150.0 665.1 h9.4 M781.5 665.1 h-9.8"/>
<path d="M150.0 657.5 h9.4 M781.5 657.5 h-9.8"/>
<path d="M150.0 650.7 h9.4 M781.5 650.7 h-9.8"/>
<path d="M150.0 644.7 h9.4 M781.5 644.7 h-9.8"/>
<path d="M150.0 605.0 h9.4 M781.5 605.0 h-9.8"/>
<path d="M150.0 581.8 h9.4 M781.5 581.8 h-9.8"/>
<path d="M150.0 565.3 h9.4 M781.5 565.3 h-9.8"/>
<path d="M150.0 552.6 h9.4 M781.5 552.6 h-9.8"/>
<path d="M150.0 542.1 h9.4 M781.5 542.1 h-9.8"/>
<path d="M150.0 533.3 h9.4 M781.5 533.3 h-9.8"/>
<path d="M150.0 525.7 h9.4 M781.5 525.7 h-9.8"/>
<path d="M150.0 518.9 h9.4 M781.5 518.9 h-9.8"/>
<path d="M150.0 512.9 h9.4 M781.5 512.9 h-9.8"/>
<path d="M150.0 473.2 h9.4 M781.5 473.2 h-9.8"/>
<path d="M150.0 450.0 h9.4 M781.5 450.0 h-9.8"/>
<path d="M150.0 433.5 h9.4 M781.5 433.5 h-9.8"/>
<path d="M150.0 420.8 h9.4 M781.5 420.8 h-9.8"/>
<path d="M150.0 410.3 h9.4 M781.5 410.3 h-9.8"/>
<path d="M150.0 401.5 h9.4 M781.5 401.5 h-9.8"/>
<path d="M150.0 393.9 h9.4 M781.5 393.9 h-9.8"/>
<path d="M150.0 387.1 h9.4 M781.5 387.1 h-9.8"/>
<path d="M150.0 381.1 h9.4 M781.5 381.1 h-9.8"/>
<path d="M150.0 341.4 h9.4 M781.5 341.4 h-9.8"/>
<path d="M150.0 318.2 h9.4 M781.5 318.2 h-9.8"/>
<path d="M150.0 301.7 h9.4 M781.5 301.7 h-9.8"/>
<path d="M150.0 289.0 h9.4 M781.5 289.0 h-9.8"/>
<path d="M150.0 278.5 h9.4 M781.5 278.5 h-9.8"/>
<path d="M150.0 269.7 h9.4 M781.5 269.7 h-9.8"/>
<path d="M150.0 262.1 h9.4 M781.5 262.1 h-9.8"/>
<path d="M150.0 255.3 h9.4 M781.5 255.3 h-9.8"/>
<path d="M150.0 249.3 h9.4 M781.5 249.3 h-9.8"/>
<path d="M150.0 209.6 h9.4 M781.5 209.6 h-9.8"/>
<path d="M150.0 186.4 h9.4 M781.5 186.4 h-9.8"/>
<path d="M150.0 169.9 h9.4 M781.5 169.9 h-9.8"/>
<path d="M150.0 157.2 h9.4 M781.5 157.2 h-9.8"/>
<path d="M150.0 146.7 h9.4 M781.5 146.7 h-9.8"/>
<path d="M150.0 137.9 h9.4 M781.5 137.9 h-9.8"/>
<path d="M150.0 130.3 h9.4 M781.5 130.3 h-9.8"/>
<path d="M150.0 123.5 h9.4 M781.5 123.5 h-9.8"/>
<path d="M150.0 117.5 h9.4 M781.5 117.5 h-9.8"/>
<path d="M150.0 77.8 h9.4 M781.5 77.8 h-9.8"/>
<path d="M150.0 54.3 h9.4 M781.5 54.3 h-9.8"/>
</g>
<rect x="150.0" y="52.2" width="631.5" height="631.3" fill="none" stroke="#000" stroke-width="2.8"/>
<text transform="translate(199.41 710.5) scale(1.095 1)" font-size="22.4">6</text>
<text transform="translate(286.19 710.5) scale(1.095 1)" font-size="22.4">8</text>
<text transform="translate(367.17 710.5) scale(1.095 1)" font-size="22.4">10</text>
<text transform="translate(453.99 710.5) scale(1.095 1)" font-size="22.4">12</text>
<text transform="translate(540.13 710.5) scale(1.095 1)" font-size="22.4">14</text>
<text transform="translate(626.92 710.5) scale(1.095 1)" font-size="22.4">16</text>
<text transform="translate(713.65 710.5) scale(1.095 1)" font-size="22.4">18</text>
<text x="78.2" y="656.9" font-size="30">10<tspan font-size="21.3" dx="-0.5" dy="-10.3">−43</tspan></text>
<text x="78.2" y="525.1" font-size="30">10<tspan font-size="21.3" dx="-0.5" dy="-10.3">−42</tspan></text>
<text x="78.2" y="393.3" font-size="30">10<tspan font-size="21.3" dx="-0.5" dy="-10.3">−41</tspan></text>
<text x="78.2" y="261.5" font-size="30">10<tspan font-size="21.3" dx="-0.5" dy="-10.3">−40</tspan></text>
<text x="78.2" y="129.7" font-size="30">10<tspan font-size="21.3" dx="-0.5" dy="-10.3">−39</tspan></text>
<text transform="translate(390.70 763.50) scale(1.059 1.000)" font-size="36.50" font-style="italic">m</text>
<text transform="translate(420.56 769.49) scale(1.166 1.000)" font-size="26.34" font-style="italic">χ</text>
<text x="446.1" y="763.5" font-size="37">[GeV]</text>
<g transform="translate(48.5 434) rotate(-90)">
<text transform="translate(-1.24 0.05) scale(1.349 1.000)" font-size="35.78" font-style="italic">σ</text>
<text transform="translate(24.25 5.10) scale(1.290 1.000)" font-size="22.92" font-style="italic">n</text>
<text transform="translate(48.03 0.12) scale(1.038 1.000)" font-size="37.21">[</text>
<text transform="translate(60.42 0.04) scale(0.991 1.000)" font-size="36.59">c</text>
<text transform="translate(77.02 0.00) scale(1.036 1.000)" font-size="36.08">m</text>
<text transform="translate(104.97 -15.20) scale(1.098 1.000)" font-size="27.49">2</text>
<text transform="translate(119.94 0.12) scale(1.014 1.000)" font-size="37.21">]</text>
</g>
<text x="607.2" y="654.7" font-size="31.5" transform="translate(607.2 0) scale(1.01 1) translate(-607.2 0)">MHM</text>
<text transform="translate(611.61 96.85) skewX(-11.83) scale(1 1.000)" font-size="30.32" font-style="italic">f</text>
<text transform="translate(623.61 100.50) scale(1.054 1.000)" font-size="23.56" font-style="italic">n</text>
<text transform="translate(635.90 101.51) scale(0.866 1.000)" font-size="39.47">/</text>
<text transform="translate(647.70 96.85) skewX(-13.40) scale(1 1.000)" font-size="30.32" font-style="italic">f</text>
<text transform="translate(660.20 101.30) scale(1.047 1.000)" font-size="24.41" font-style="italic">p</text>
<text transform="translate(674.39 101.14) scale(0.945 1.000)" font-size="36.40">=</text>
<text transform="translate(695.75 96.80) scale(0.856 1.000)" font-size="31.20">1</text>
</svg></body></html>
